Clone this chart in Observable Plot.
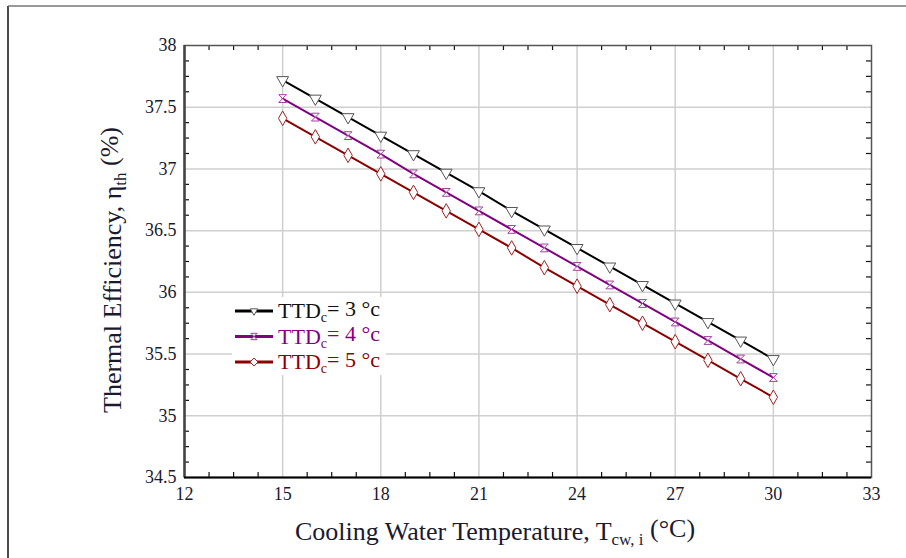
<!DOCTYPE html>
<html><head><meta charset="utf-8">
<script src="https://cdn.jsdelivr.net/npm/d3@7"></script>
<script src="https://cdn.jsdelivr.net/npm/@observablehq/plot@0.6"></script>
<style>
html,body{margin:0;padding:0;background:#fff;}
#chart{width:906px;height:558px;}
svg{display:block;}
#chart svg text{font-family:'Liberation Serif','Times New Roman',serif !important;}
</style></head><body><div id="chart"></div>
<script>
// ---- data ----
const temperatures = [15,16,17,18,19,20,21,22,23,24,25,26,27,28,29,30];
const ttd3 = [37.72,37.57,37.42,37.27,37.12,36.97,36.82,36.66,36.51,36.36,36.21,36.06,35.91,35.76,35.61,35.46];
const ttd4 = [37.57,37.42,37.27,37.12,36.96,36.81,36.66,36.51,36.36,36.21,36.06,35.91,35.76,35.61,35.46,35.31];
const ttd5 = [37.41,37.26,37.11,36.96,36.81,36.66,36.51,36.36,36.20,36.05,35.90,35.75,35.60,35.45,35.30,35.15];
const seriesNames = ["3", "4", "5"];
const seriesColors = ["#000000", "#800080", "#8b0000"];
const markerColors = ["#555555", "#a040a0", "#a02020"];
const xTicks = [12,15,18,21,24,27,30,33];
const yTicks = [34.5,35,35.5,36,36.5,37,37.5,38];
const xGrid = [15,18,21,24,27,30];
const yGrid = [35,35.5,36,36.5,37,37.5];

const rows = [];
[ttd3, ttd4, ttd5].forEach((vals, i) => vals.forEach((v, j) => rows.push({t: temperatures[j], eta: v, s: seriesNames[i]})));

const xMinor = d3.range(12, 33.001, 0.75).filter(v => Math.abs(v/3 - Math.round(v/3)) > 1e-6);
const yMinor = d3.range(34.5, 38.001, 0.125).filter(v => Math.abs(v/0.5 - Math.round(v/0.5)) > 1e-6);

// hourglass symbol
const hourglass = {draw(ctx, size){ const s = Math.sqrt(size)/2; ctx.moveTo(-s,-s); ctx.lineTo(s,-s); ctx.lineTo(-s,s); ctx.lineTo(s,s); ctx.closePath(); }};
const symbols = ["triangle", hourglass, "diamond"];
const rotates = [180, 0, 0];

const W = 906, H = 558, mL = 184, mR = 35, mT = 45, mB = 81;
const frameH = H - mT - mB, frameW = W - mL - mR;
const tickLen = 5;
const font = "'Liberation Serif', 'Times New Roman', serif";
const textColor = "#1a1a2e";

const marks = [
  Plot.gridX(xGrid, {stroke: "#cfcfcf", strokeOpacity: 1, strokeWidth: 1.5}),
  Plot.gridY(yGrid, {stroke: "#cfcfcf", strokeOpacity: 1, strokeWidth: 1.5}),
  Plot.tickX(xMinor, {x: d => d, insetTop: frameH - tickLen, stroke: "#111", strokeWidth: 1.2}),
  Plot.tickX(xMinor, {x: d => d, insetBottom: frameH - tickLen, stroke: "#111", strokeWidth: 1.2}),
  Plot.tickY(yMinor, {y: d => d, insetRight: frameW - tickLen, stroke: "#111", strokeWidth: 1.2}),
  Plot.tickY(yMinor, {y: d => d, insetLeft: frameW - tickLen, stroke: "#111", strokeWidth: 1.2}),
  Plot.frame({stroke: "#555", strokeWidth: 1.5}),
  Plot.ruleX([12], {stroke: "#444", strokeWidth: 2.5}),
  Plot.ruleY([34.5], {stroke: "#000", strokeWidth: 2.2}),
  Plot.line(rows, {x: "t", y: "eta", stroke: "s", strokeWidth: 2})
];
seriesNames.forEach((n, i) => {
  marks.push(Plot.dot(rows.filter(d => d.s === n), {x: "t", y: "eta", symbol: () => symbols[i], rotate: rotates[i], r: 4.4, stroke: markerColors[i], fill: "white", strokeWidth: 1}));
});
marks.push(
  Plot.text(xTicks, {x: d => d, frameAnchor: "bottom", dy: 22, text: d => String(d), fontSize: 18, fill: textColor, fontFamily: font}),
  Plot.text(yTicks, {y: d => d, frameAnchor: "left", dx: -8, textAnchor: "end", text: d => String(d), fontSize: 18, fill: textColor, fontFamily: font})
);

const plot = Plot.plot({
  width: W, height: H, marginLeft: mL, marginRight: mR, marginTop: mT, marginBottom: mB,
  style: {fontSize: "18px", color: textColor, background: "white"},
  x: {domain: [12, 33], axis: null},
  y: {domain: [34.5, 38], axis: null},
  symbol: {type: "identity"},
  color: {domain: seriesNames, range: seriesColors},
  marks
});
document.getElementById("chart").appendChild(plot);

const svg = d3.select(plot);
svg.attr("font-family", font);

// outer border
svg.append("line").attr("x1", 8).attr("x2", 8).attr("y1", 6).attr("y2", H).attr("stroke", "#111").attr("stroke-width", 1.5);
svg.append("line").attr("x1", 8).attr("x2", W).attr("y1", 6).attr("y2", 6).attr("stroke", "#777").attr("stroke-width", 1.5);

// axis titles
const xt = svg.append("text").attr("x", 495).attr("y", 540).attr("text-anchor", "middle")
  .attr("font-family", font).attr("font-size", 26).attr("fill", textColor);
xt.append("tspan").text("Cooling Water Temperature, T");
xt.append("tspan").attr("dy", "0.3em").attr("font-size", "17px").text("cw, i");
xt.append("tspan").attr("dy", "-0.3em").text(" (°C)");

const yt = svg.append("text").attr("transform", "translate(121,270) rotate(-90)").attr("text-anchor", "middle")
  .attr("font-family", font).attr("font-size", 26).attr("fill", textColor);
yt.append("tspan").text("Thermal Efficiency, η");
yt.append("tspan").attr("dy", "0.3em").attr("font-size", "17px").text("th");
yt.append("tspan").attr("dy", "-0.3em").text(" (%)");

// legend
const lg = svg.append("g");
lg.append("rect").attr("x", 232).attr("y", 297).attr("width", 154).attr("height", 78).attr("fill", "white");
seriesNames.forEach((n, i) => {
  const y = 311 + i * 25.5;
  lg.append("line").attr("x1", 235).attr("x2", 273).attr("y1", y).attr("y2", y).attr("stroke", seriesColors[i]).attr("stroke-width", 3);
  const sym = typeof symbols[i] === "string" ? (symbols[i] === "triangle" ? d3.symbolTriangle2 : d3.symbolDiamond2) : symbols[i];
  lg.append("path").attr("d", d3.symbol(sym, 40)()).attr("transform", `translate(254,${y}) rotate(${rotates[i]})`)
    .attr("fill", "white").attr("stroke", markerColors[i]).attr("stroke-width", 1);
  const t = lg.append("text").attr("x", 278).attr("y", y + 7).attr("text-anchor", "start")
    .attr("font-family", font).attr("font-size", 22).attr("fill", seriesColors[i] === "#000000" ? "#111" : seriesColors[i]);
  t.append("tspan").text("TTD");
  t.append("tspan").attr("dy", "0.3em").attr("font-size", "14px").text("c");
  t.append("tspan").attr("dy", "-0.3em").text(`= ${n} °c`);
});
</script></body></html>
